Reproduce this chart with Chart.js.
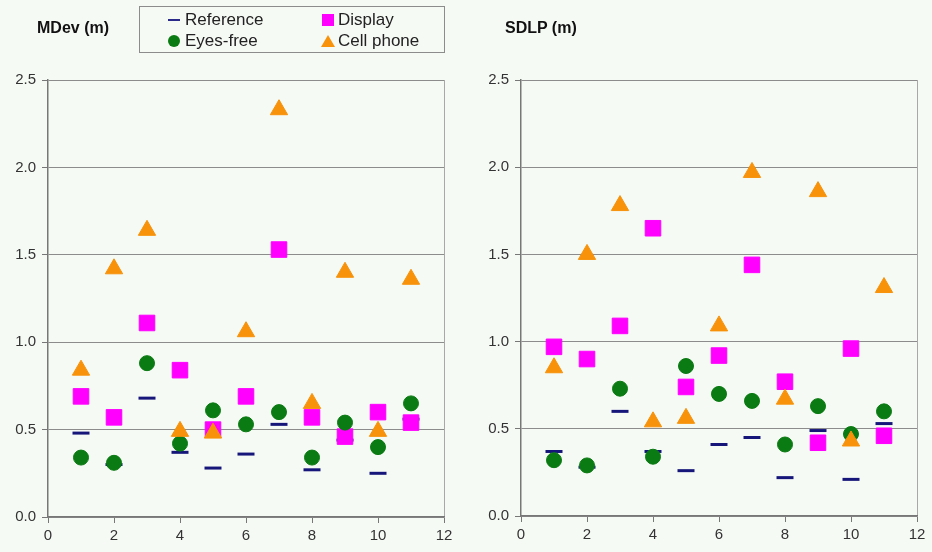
<!DOCTYPE html>
<html>
<head>
    <title>MDev and SDLP</title>
    <style>
        body, html {
            margin: 0;
            width: 932px;
            height: 552px;
            background-color: #f6faf5;
            font-family: "Liberation Sans", Arial, sans-serif;
            overflow: hidden;
        }
        .panel {
            position: absolute;
            top: 0;
            width: 466px;
            height: 552px;
        }
        .title {
            position: absolute;
            top: 19px;
            font-weight: bold;
            font-size: 16px;
            color: #111;
        }
        #legend {
            position: absolute;
            left: 139px;
            top: 6px;
            width: 304px;
            height: 45px;
            border: 1.5px solid #8c8c8c;
            font-size: 17px;
            color: #222;
        }
        .item {
            position: absolute;
            line-height: 20px;
        }
        .mk {
            position: absolute;
        }
    </style>
</head>
<body>
    <div class="panel" style="left:0"><canvas id="mdev" width="466" height="552"></canvas></div>
    <div class="panel" style="left:466px"><canvas id="sdlp" width="466" height="552"></canvas></div>
    <div class="title" style="left:37px">MDev (m)</div>
    <div class="title" style="left:505px">SDLP (m)</div>
    <div id="legend">
        <div class="item" style="left:45px;top:3px">
            <span class="mk" style="left:-17px;top:9px;width:12px;height:2px;background:#2a2a8a"></span>Reference
        </div>
        <div class="item" style="left:198px;top:3px">
            <span class="mk" style="left:-16px;top:4px;width:12px;height:12px;background:#ff00ff"></span>Display
        </div>
        <div class="item" style="left:45px;top:24px">
            <span class="mk" style="left:-17px;top:4px;width:12px;height:12px;border-radius:6px;background:#0a7a12"></span>Eyes-free
        </div>
        <div class="item" style="left:198px;top:24px">
            <span class="mk" style="left:-17px;top:4px;width:0;height:0;border-left:7px solid transparent;border-right:7px solid transparent;border-bottom:12px solid #f7920a"></span>Cell phone
        </div>
    </div>
    <script src="https://cdn.jsdelivr.net/npm/chart.js"></script>
    <script>
        const subjects = [1, 2, 3, 4, 5, 6, 7, 8, 9, 10, 11];

        // MDev (m)
        const mdevReference = [0.48, 0.30, 0.68, 0.37, 0.28, 0.36, 0.53, 0.27, 0.44, 0.25, 0.56];
        const mdevDisplay   = [0.69, 0.57, 1.11, 0.84, 0.50, 0.69, 1.53, 0.57, 0.46, 0.60, 0.54];
        const mdevEyesFree  = [0.34, 0.31, 0.88, 0.42, 0.61, 0.53, 0.60, 0.34, 0.54, 0.40, 0.65];
        const mdevCellPhone = [0.84, 1.42, 1.64, 0.49, 0.48, 1.06, 2.33, 0.65, 1.40, 0.49, 1.36];

        // SDLP (m)
        const sdlpReference = [0.37, 0.28, 0.60, 0.37, 0.26, 0.41, 0.45, 0.22, 0.49, 0.21, 0.53];
        const sdlpDisplay   = [0.97, 0.90, 1.09, 1.65, 0.74, 0.92, 1.44, 0.77, 0.42, 0.96, 0.46];
        const sdlpEyesFree  = [0.32, 0.29, 0.73, 0.34, 0.86, 0.70, 0.66, 0.41, 0.63, 0.47, 0.60];
        const sdlpCellPhone = [0.85, 1.50, 1.78, 0.54, 0.56, 1.09, 1.97, 0.67, 1.86, 0.43, 1.31];

        const xTicks = [0, 2, 4, 6, 8, 10, 12];
        const yTicks = [0, 0.5, 1.0, 1.5, 2.0, 2.5];

        function pts(values) {
            return values.map((v, i) => ({ x: subjects[i], y: v }));
        }

        function makeChart(id, ref, disp, eyes, cell, pad, xHeight) {
            const ctx = document.getElementById(id).getContext('2d');
            return new Chart(ctx, {
                type: 'scatter',
                data: {
                    datasets: [
                        {
                            label: 'Cell phone',
                            data: pts(cell),
                            pointStyle: 'triangle',
                            pointRadius: 10,
                            backgroundColor: '#f7920a',
                            borderColor: '#f7920a',
                            borderWidth: 1,
                            order: 1
                        },
                        {
                            label: 'Eyes-free',
                            data: pts(eyes),
                            pointStyle: 'circle',
                            pointRadius: 7.5,
                            backgroundColor: '#0a7a12',
                            borderColor: '#0a7a12',
                            borderWidth: 1,
                            order: 2
                        },
                        {
                            label: 'Display',
                            data: pts(disp),
                            pointStyle: 'rect',
                            pointRadius: 11,
                            backgroundColor: '#ff00ff',
                            borderColor: '#ff00ff',
                            borderWidth: 1,
                            order: 3
                        },
                        {
                            label: 'Reference',
                            data: pts(ref),
                            pointStyle: 'line',
                            pointRadius: 8.5,
                            borderColor: '#16167a',
                            borderWidth: 3,
                            order: 4
                        }
                    ]
                },
                options: {
                    responsive: false,
                    animation: false,
                    layout: { padding: pad },
                    plugins: {
                        legend: { display: false },
                        tooltip: { enabled: false }
                    },
                    scales: {
                        x: {
                            type: 'linear',
                            min: 0,
                            max: 12,
                            afterBuildTicks: s => { s.ticks = xTicks.map(v => ({ value: v })); },
                            afterFit: s => { s.height = xHeight; },
                            ticks: {
                                color: '#333',
                                font: { size: 15, family: '"Liberation Sans", Arial' },
                                padding: 4
                            },
                            grid: {
                                color: c => (c.tick && c.tick.value === 12) ? '#a8a8a8' : 'rgba(0,0,0,0)',
                                tickColor: '#777',
                                tickLength: 6
                            },
                            border: { color: '#777', width: 1.5 }
                        },
                        y: {
                            min: 0,
                            max: 2.5,
                            afterBuildTicks: s => { s.ticks = yTicks.map(v => ({ value: v })); },
                            afterFit: s => { s.width = 48; },
                            ticks: {
                                color: '#333',
                                font: { size: 15, family: '"Liberation Sans", Arial' },
                                padding: 6,
                                callback: v => Number(v).toFixed(1)
                            },
                            grid: {
                                color: '#8c8c8c',
                                tickColor: '#777',
                                tickLength: 6
                            },
                            border: { color: '#777', width: 1.5 }
                        }
                    }
                }
            });
        }

        makeChart('mdev', mdevReference, mdevDisplay, mdevEyesFree, mdevCellPhone,
            { left: 0, right: 22, top: 80, bottom: 0 }, 35);
        makeChart('sdlp', sdlpReference, sdlpDisplay, sdlpEyesFree, sdlpCellPhone,
            { left: 7, right: 15, top: 80, bottom: 0 }, 36);
    </script>
</body>
</html>
